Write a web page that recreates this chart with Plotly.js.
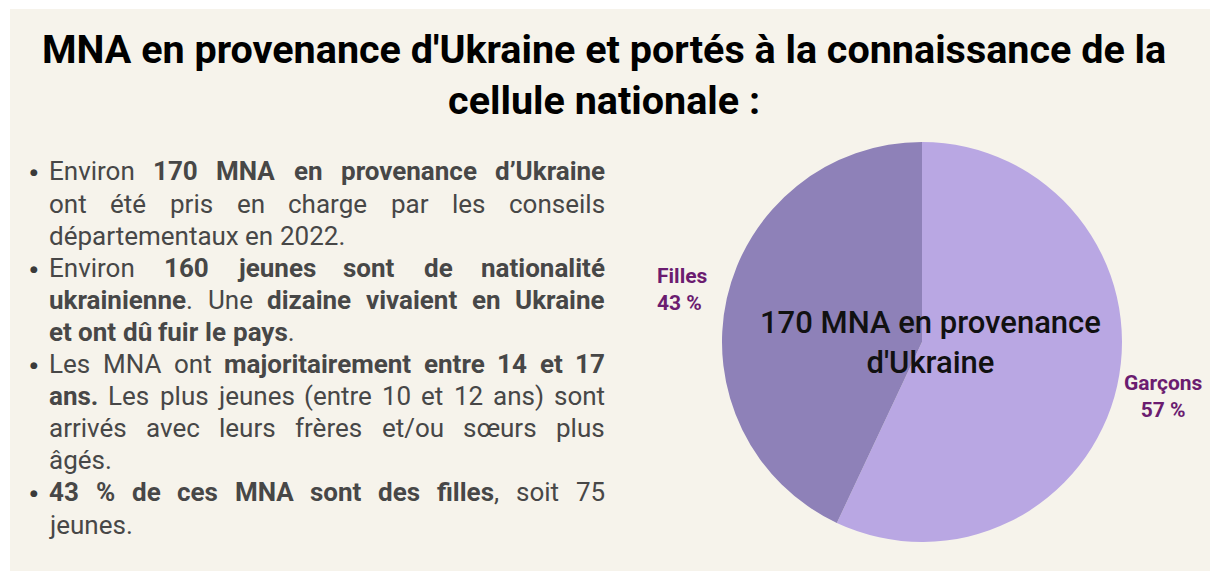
<!DOCTYPE html>
<html>
<head>
<meta charset="utf-8">
<script src="https://cdn.plot.ly/plotly-3.0.1.min.js"></script>
<style>
html,body{margin:0;padding:0;background:#ffffff;}
#chart{width:1210px;height:571px;}
</style>
</head>
<body>
<div id="chart"></div>
<script>
// ---------- data ----------
const sliceLabels = ['Garçons', 'Filles'];
const sliceValues = [57, 43];
const sliceColors = ['#b9a7e3', '#8e81b8'];
const labelColor = '#6b1c70';

const titleLines = ["MNA en provenance d'Ukraine et portés à la connaissance de la", "cellule nationale :"];
const centerLines = ['170 MNA en provenance', "d'Ukraine"];

// body text lines: words (bold parts in <b>), bullet flag, justify flag
const bodyWords = [
  ['Environ', '<b>170</b>', '<b>MNA</b>', '<b>en</b>', '<b>provenance</b>', '<b>d’Ukraine</b>'],
  ['ont', 'été', 'pris', 'en', 'charge', 'par', 'les', 'conseils'],
  ['départementaux', 'en', '2022.'],
  ['Environ', '<b>160</b>', '<b>jeunes</b>', '<b>sont</b>', '<b>de</b>', '<b>nationalité</b>'],
  ['<b>ukrainienne</b>.', 'Une', '<b>dizaine</b>', '<b>vivaient</b>', '<b>en</b>', '<b>Ukraine</b>'],
  ['<b>et</b>', '<b>ont</b>', '<b>dû</b>', '<b>fuir</b>', '<b>le</b>', '<b>pays</b>.'],
  ['Les', 'MNA', 'ont', '<b>majoritairement</b>', '<b>entre</b>', '<b>14</b>', '<b>et</b>', '<b>17</b>'],
  ['<b>ans.</b>', 'Les', 'plus', 'jeunes', '(entre', '10', 'et', '12', 'ans)', 'sont'],
  ['arrivés', 'avec', 'leurs', 'frères', 'et/ou', 'sœurs', 'plus'],
  ['âgés.'],
  ['<b>43</b>', '<b>%</b>', '<b>de</b>', '<b>ces</b>', '<b>MNA</b>', '<b>sont</b>', '<b>des</b>', '<b>filles</b>,', 'soit', '75'],
  ['jeunes.']
];
const bodyBullet  = [1,0,0,1,0,0,1,0,0,0,1,0];
const bodyJustify = [1,1,0,1,1,0,1,1,1,0,1,0];

// ---------- layout helpers ----------
const W = 1210, H = 571;
const px = x => x / W;
const py = y => 1 - y / H;

const bodyFont = 'Roboto';
const bodySize = 26;
const bodyColor = '#474747';
const textLeft = 49, textRight = 605, bulletX = 34;
const firstBaseline = 180, lineStep = 32.1;

const cv = document.createElement('canvas');
const ctx = cv.getContext('2d');
function measureWord(w) {
  let total = 0;
  const re = /<b>(.*?)<\/b>|([^<]+)/g;
  let m;
  while ((m = re.exec(w)) !== null) {
    if (m[1] !== undefined) { ctx.font = 'bold ' + bodySize + 'px ' + bodyFont; total += ctx.measureText(m[1]).width; }
    else { ctx.font = bodySize + 'px ' + bodyFont; total += ctx.measureText(m[2]).width; }
  }
  return total;
}

function build() {
  const annotations = [];
  ctx.font = bodySize + 'px ' + bodyFont;
  const spaceW = ctx.measureText(' ').width;

  bodyWords.forEach((words, i) => {
    const yc = firstBaseline + i * lineStep - 0.33 * bodySize;
    const widths = words.map(measureWord);
    const sum = widths.reduce((a, b) => a + b, 0);
    let gap = spaceW;
    if (bodyJustify[i] && words.length > 1) gap = (textRight - textLeft - sum) / (words.length - 1);
    let x = textLeft;
    words.forEach((w, k) => {
      annotations.push({
        x: px(x - 2), y: py(yc), xref: 'paper', yref: 'paper',
        xanchor: 'left', yanchor: 'middle', showarrow: false,
        text: w, font: {family: bodyFont, size: bodySize, color: bodyColor}
      });
      x += widths[k] + gap;
    });
    if (bodyBullet[i]) {
      annotations.push({
        x: px(bulletX), y: py(yc + 1), xref: 'paper', yref: 'paper',
        xanchor: 'center', yanchor: 'middle', showarrow: false,
        text: '●', font: {family: 'DejaVu Sans', size: 9, color: '#3a3a3a'}
      });
    }
  });

  // title
  annotations.push({
    x: px(604), y: py(75), xref: 'paper', yref: 'paper', xanchor: 'center', yanchor: 'middle',
    showarrow: false, align: 'center', text: titleLines.join('<br>'),
    font: {family: 'Roboto', size: 39.5, color: '#000000', weight: 700}
  });

  // centre text
  annotations.push({
    x: px(930), y: py(342), xref: 'paper', yref: 'paper', xanchor: 'center', yanchor: 'middle',
    showarrow: false, align: 'center', text: centerLines.join('<br>'),
    font: {family: 'Roboto', size: 31, color: '#111111', weight: 500}
  });

  // slice labels
  annotations.push({
    x: px(1163), y: py(396), xref: 'paper', yref: 'paper', xanchor: 'center', yanchor: 'middle',
    showarrow: false, align: 'center', text: '<b>' + sliceLabels[0] + '</b><br><b>' + sliceValues[0] + ' %</b>',
    font: {family: 'Roboto', size: 21, color: labelColor}
  });
  annotations.push({
    x: px(655), y: py(289), xref: 'paper', yref: 'paper', xanchor: 'left', yanchor: 'middle',
    showarrow: false, align: 'left', text: '<b>' + sliceLabels[1] + '</b><br><b>' + sliceValues[1] + ' %</b>',
    font: {family: 'Roboto', size: 21, color: labelColor}
  });

  const data = [{
    type: 'pie',
    labels: sliceLabels,
    values: sliceValues,
    marker: {colors: sliceColors, line: {width: 0}},
    sort: false,
    direction: 'clockwise',
    rotation: 0,
    textinfo: 'none',
    hoverinfo: 'label+percent',
    showlegend: false,
    domain: {x: [px(722), px(1122)], y: [py(543), py(141)]}
  }];

  const layout = {
    width: W, height: H,
    margin: {l: 0, r: 0, t: 0, b: 0, pad: 0},
    paper_bgcolor: '#f6f3eb',
    plot_bgcolor: '#f6f3eb',
    showlegend: false,
    annotations: annotations,
    shapes: [
      {type: 'rect', xref: 'paper', yref: 'paper', x0: 0, x1: px(10), y0: 0, y1: 1, fillcolor: '#ffffff', line: {width: 0}, layer: 'below'},
      {type: 'rect', xref: 'paper', yref: 'paper', x0: 0, x1: 1, y0: py(9), y1: 1, fillcolor: '#ffffff', line: {width: 0}, layer: 'below'}
    ]
  };

  Plotly.newPlot('chart', data, layout, {displayModeBar: false, staticPlot: true});
}

const loads = (document.fonts && document.fonts.load) ? Promise.all([
  document.fonts.load('26px Roboto'), document.fonts.load('bold 26px Roboto')
]).catch(() => {}) : Promise.resolve();
loads.then(build, build);
</script>
</body>
</html>
